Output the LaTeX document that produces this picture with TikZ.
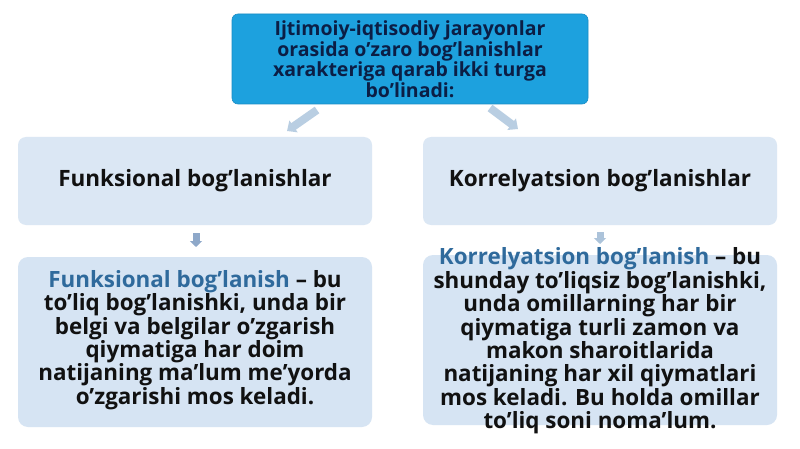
\documentclass[tikz,border=0pt]{standalone}
\usepackage{fontspec}
\setmainfont{Open Sans}
\usetikzlibrary{arrows.meta}
\definecolor{topblue}{HTML}{1DA1DE}
\definecolor{topedge}{HTML}{1A8CC4}
\definecolor{navy}{HTML}{0B1E45}
\definecolor{midfill}{HTML}{DBE7F4}
\definecolor{lowfill}{HTML}{D6E4F3}
\definecolor{hl}{HTML}{2F6A9C}
\definecolor{txt}{HTML}{111111}
\definecolor{arrA}{HTML}{B9CEE2}
\definecolor{arrB}{HTML}{8EA8C9}
\tikzset{
  topbox/.style={rounded corners=6pt, fill=topblue, draw=topedge, line width=0.6pt,
    minimum width=356pt, minimum height=90pt, align=center, text=navy, inner sep=0pt,
    font=\fontsize{19.5}{20.5}\selectfont\bfseries},
  midbox/.style={rounded corners=8pt, fill=midfill, draw=none,
    minimum width=354pt, minimum height=88pt, text=txt,
    font=\fontsize{22.5}{24}\selectfont\bfseries},
  lowbox/.style={rounded corners=10pt, fill=lowfill, draw=none,
    minimum width=354pt, minimum height=170pt},
  lowtext/.style={align=center, text=txt, font=\fontsize{22.4}{23.4}\selectfont\bfseries},
  blockarrow/.style={draw=arrA, line width=8pt, -{Triangle[width=14pt,length=8pt]}},
  downarrow/.style={draw=arrB, line width=7pt, -{Triangle[width=12pt,length=6pt]}}
}
\begin{document}
\begin{tikzpicture}[x=1pt,y=-1pt]
\useasboundingbox[fill=white] (0,0) rectangle (800,449);
\node[topbox] (top) at (410,59) {Ijtimoiy-iqtisodiy jarayonlar\\orasida o’zaro bog’lanishlar\\xarakteriga qarab ikki turga\\bo’linadi:};
\node[midbox] (fl) at (195,181) {Funksional bog’lanishlar};
\node[midbox] (kl) at (600,181) {Korrelyatsion bog’lanishlar};
\node[lowbox] (fb) at (195,342) {};
\node[lowbox] (kb) at (600,340) {};
\coordinate (a1s) at (317,110); \coordinate (a1e) at (287,131);
\coordinate (a2s) at (490,108); \coordinate (a2e) at (518,129);
\coordinate (a3s) at (196,233); \coordinate (a3e) at (196,247);
\coordinate (a4s) at (600,232); \coordinate (a4e) at (600,244);
\draw[blockarrow] (a1s) -- (a1e);
\draw[blockarrow] (a2s) -- (a2e);
\draw[downarrow] (a3s) -- (a3e);
\draw[downarrow, draw=arrA!70!arrB] (a4s) -- (a4e);
\node[lowtext] (ft) at (195,340) {{\color{hl}Funksional bog’lanish} – bu\\to’liq bog’lanishki, unda bir\\belgi va belgilar o’zgarish\\qiymatiga har doim\\natijaning ma’lum me’yorda\\o’zgarishi mos keladi.};
\node[lowtext] (kt) at (600,341) {{\color{hl}Korrelyatsion bog’lanish} – bu\\shunday to’liqsiz bog’lanishki,\\unda omillarning har bir\\qiymatiga turli zamon va\\makon sharoitlarida\\natijaning har xil qiymatlari\\mos keladi. Bu holda omillar\\to’liq soni noma’lum.};
\end{tikzpicture}
\end{document}
